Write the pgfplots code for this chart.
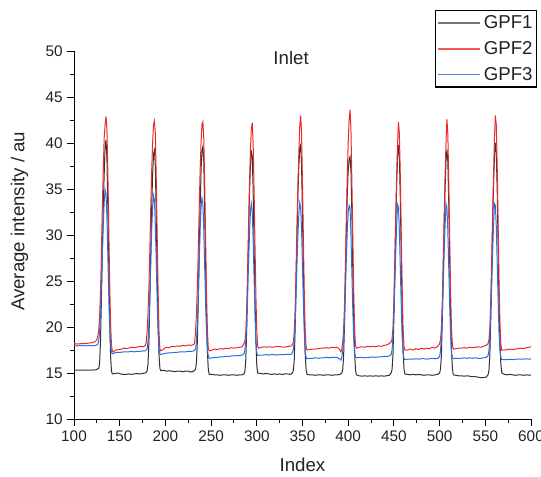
\documentclass[border=0pt]{standalone}
\usepackage{fontspec}
\setmainfont{Liberation Sans}
\usepackage{pgfplots}
\pgfplotsset{compat=1.18}
\definecolor{cA}{RGB}{50,50,50}
\definecolor{cB}{RGB}{238,40,42}
\definecolor{cC}{RGB}{40,112,228}
\definecolor{lA}{RGB}{120,120,120}
\definecolor{lB}{RGB}{242,90,92}
\definecolor{lC}{RGB}{80,140,230}
\definecolor{txt}{RGB}{35,35,35}
\newcommand{\fs}{\fontsize{14}{16.5}\selectfont}
\newcommand{\ft}{\fontsize{11.5}{14}\selectfont}
\begin{document}
\begin{tikzpicture}
\useasboundingbox (0,0) rectangle (405.75pt,357pt);
\begin{axis}[
  at={(55.5pt,42.75pt)}, anchor=south west,
  scale only axis, width=342.75pt, height=276pt,
  xmin=100, xmax=600, ymin=10, ymax=50,
  axis x line*=bottom, axis y line*=left,
  xtick={100,150,...,600}, ytick={10,15,...,50},
  minor x tick num=1, minor y tick num=1,
  tick align=outside, major tick length=5pt, minor tick length=3pt,
  tick style={black, line width=0.75pt},
  axis line style={black, line width=0.75pt},
  /pgf/number format/assume math mode=true,
  ticklabel style={font=\ft, text=txt},
  xlabel={Index}, ylabel={Average intensity / au},
  label style={font=\fs, text=txt},
  xlabel style={at={(axis description cs:0.5,-0.125)}, anchor=center},
  ylabel style={at={(axis description cs:-0.119,0.537)}, anchor=center},
  legend style={at={(axis description cs:1.0135,1.111)}, anchor=north east,
    draw=black, line width=0.9pt, font=\fs, text=txt, inner xsep=1pt, inner ysep=1.6pt,
    row sep=4.1pt, cells={anchor=west}},
  legend image code/.code={\draw[#1, line width=1pt] (0pt,0pt) -- (32pt,0pt);},
  every axis plot/.append style={line width=0.75pt},
]
\addlegendimage{lA}\addlegendentry{GPF1}
\addlegendimage{lB}\addlegendentry{GPF2}
\addlegendimage{lC}\addlegendentry{GPF3}
\addplot[cA, forget plot] coordinates {
(100,15.3)(104,15.3)(108,15.32)(112,15.3)(116,15.3)(120,15.32)(124,15.35)(127,15.5)
(128,16.0)(129,18.5)(130,23)(131,28)(132,33)(133,36.5)(134,39.5)(135,40.3)(136,38.5)(137,33)(138,27)(139,21)(140,17)(141,15.2)(142,14.9)
(145,14.95)(148,15.0)(151,14.9)(154,14.85)(157,14.85)(160,14.9)(163,14.85)(166,14.9)(169,14.95)(172,14.9)(175,14.95)(178,15.0)(180,15.2)
(181,16.0)(182,18.5)(183,23)(184,28)(185,33)(186,36.5)(187,38.8)(188,39.2)(189,37.5)(190,32)(191,26)(192,20.5)(193,17)(194,15.5)(195,15.25)
(198,15.3)(201,15.2)(204,15.25)(207,15.2)(210,15.15)(213,15.2)(216,15.2)(219,15.15)(222,15.2)(225,15.2)(228,15.1)(231,15.2)(233,15.4)
(234,16.2)(235,18.5)(236,23)(237,28)(238,33)(239,37)(240,39.2)(241,39.6)(242,38)(243,32.5)(244,26.5)(245,21)(246,17.2)(247,15.3)(248,14.85)
(251,14.85)(254,14.8)(257,14.8)(260,14.75)(263,14.8)(266,14.8)(269,14.75)(272,14.8)(275,14.8)(278,14.75)(281,14.8)(284,14.8)(286,14.9)(287,15.2)
(288,16.5)(289,20)(290,25)(291,30)(292,34.5)(293,37.5)(294,39.2)(295,38.5)(296,35)(297,29)(298,23)(299,18.5)(300,15.8)(301,15.0)
(304,14.95)(307,14.9)(310,14.95)(313,14.9)(316,14.85)(319,14.9)(322,14.85)(325,14.9)(328,14.85)(331,14.9)(334,14.9)(337,14.85)(339,15.0)(340,15.3)
(341,16.5)(342,20)(343,25)(344,30)(345,34.5)(346,37.5)(347,39.5)(348,39.8)(349,37.5)(350,32)(351,26)(352,20.5)(353,17)(354,15.3)(355,14.85)
(358,14.8)(361,14.8)(364,14.75)(367,14.8)(370,14.8)(373,14.75)(376,14.8)(379,14.8)(382,14.75)(385,14.8)(388,14.8)(391,14.85)(393,15.0)(394,15.4)
(395,16.8)(396,20.5)(397,25.5)(398,30.5)(399,34.5)(400,37)(401,38.2)(402,38.5)(403,37)(404,32.5)(405,26.5)(406,21)(407,17.2)(408,15.3)(409,14.8)
(412,14.7)(415,14.65)(418,14.7)(421,14.65)(424,14.7)(427,14.65)(430,14.7)(433,14.65)(436,14.7)(439,14.65)(442,14.7)(445,14.75)(447,15.0)(448,15.4)
(449,17)(450,21)(451,26)(452,31)(453,35.5)(454,38.5)(455,39.8)(456,38.5)(457,34)(458,28)(459,22)(460,17.5)(461,15.5)(462,14.9)
(465,14.85)(468,14.8)(471,14.85)(474,14.8)(477,14.85)(480,14.8)(483,14.75)(486,14.8)(489,14.8)(492,14.75)(495,14.8)(498,14.85)(500,15.0)(501,15.4)
(502,17)(503,21)(504,26)(505,31)(506,35)(507,38)(508,39.3)(509,38)(510,33.5)(511,27.5)(512,21.5)(513,17.5)(514,15.5)(515,14.8)
(518,14.75)(521,14.7)(524,14.7)(527,14.65)(530,14.7)(533,14.65)(536,14.6)(539,14.6)(542,14.55)(545,14.5)(548,14.5)(551,14.55)(553,14.8)(554,15.3)
(555,17)(556,21)(557,26)(558,31)(559,35.5)(560,38.5)(561,40.0)(562,39.0)(563,35)(564,29)(565,23)(566,18.5)(567,16)(568,15.0)
(571,14.85)(574,14.8)(577,14.85)(580,14.8)(583,14.75)(586,14.8)(589,14.8)(592,14.75)(595,14.8)(598,14.75)(600,14.8)
};
\addplot[cB, forget plot] coordinates {
(100,18.2)(104,18.15)(108,18.2)(112,18.2)(116,18.25)(120,18.3)(123,18.4)(125,18.6)(126,19.0)(127,19.6)
(128,21)(129,24)(130,28)(131,33)(132,37)(133,40.5)(134,42.0)(135,42.9)(136,41.5)(137,37)(138,31)(139,25)(140,20.5)(141,18.0)(142,17.4)(143,17.3)
(146,17.5)(149,17.55)(152,17.6)(155,17.7)(158,17.65)(161,17.75)(164,17.8)(167,17.75)(170,17.85)(173,17.9)(176,17.85)(178,18.0)(179,18.3)
(180,19.5)(181,21.5)(182,24.5)(183,28.5)(184,33)(185,37)(186,40)(187,42.0)(188,42.4)(189,41)(190,36)(191,30)(192,24)(193,19.5)(194,17.6)(195,17.4)
(198,17.6)(201,17.8)(204,17.75)(207,17.9)(210,17.85)(213,17.95)(216,17.9)(219,18.0)(222,17.95)(225,18.05)(228,18.0)(231,18.1)(232,18.3)
(233,19.5)(234,21.5)(235,24.5)(236,28.5)(237,33)(238,37)(239,40)(240,42.0)(241,42.3)(242,40.5)(243,35.5)(244,29.5)(245,23.5)(246,19.5)(247,17.6)(248,17.4)
(251,17.5)(254,17.6)(257,17.55)(260,17.65)(263,17.6)(266,17.7)(269,17.65)(272,17.75)(275,17.7)(278,17.75)(281,17.8)(284,17.85)(286,18.2)(287,18.5)
(288,19.5)(289,22)(290,26.5)(291,31)(292,35.5)(293,39)(294,41.5)(295,42.2)(296,40)(297,35)(298,29)(299,23.5)(300,19.5)(301,17.9)(302,17.7)
(305,17.8)(308,17.85)(311,17.8)(314,17.85)(317,17.8)(320,17.85)(323,17.9)(326,17.85)(329,17.8)(332,17.85)(335,17.9)(338,17.95)(340,18.3)
(341,19.5)(342,22)(343,26.5)(344,31)(345,35.5)(346,39)(347,41.8)(348,43.0)(349,41)(350,35.5)(351,29.5)(352,23.5)(353,19.5)(354,17.8)(355,17.5)
(358,17.55)(361,17.6)(364,17.6)(367,17.65)(370,17.7)(373,17.7)(376,17.75)(379,17.7)(382,17.8)(385,17.75)(388,17.8)(391,17.5)(392,17.3)(393,17.6)(394,18.3)
(395,19.8)(396,22.5)(397,27)(398,32)(399,36.5)(400,40)(401,42.5)(402,43.6)(403,41.5)(404,36)(405,30)(406,24)(407,19.8)(408,18.0)(409,17.7)
(412,17.8)(415,17.85)(418,17.8)(421,17.9)(424,17.85)(427,17.9)(430,17.85)(433,17.95)(436,17.9)(439,18.0)(442,18.05)(445,18.2)(447,18.4)(448,18.7)
(449,20)(450,23)(451,27.5)(452,32)(453,36.5)(454,40)(455,42.3)(456,41)(457,36.5)(458,30.5)(459,24.5)(460,20)(461,18)(462,17.5)
(465,17.5)(468,17.6)(471,17.5)(474,17.65)(477,17.55)(480,17.7)(483,17.6)(486,17.7)(489,17.65)(492,17.8)(495,17.7)(498,17.9)(500,18.2)(501,18.6)
(502,20)(503,23)(504,27.5)(505,32)(506,36.5)(507,40)(508,42.6)(509,41)(510,36)(511,30)(512,24)(513,19.8)(514,18)(515,17.6)
(518,17.65)(521,17.7)(524,17.7)(527,17.75)(530,17.7)(533,17.8)(536,17.75)(539,17.8)(542,17.85)(545,17.8)(548,17.9)(551,18.0)(553,18.2)(554,18.6)
(555,20)(556,23)(557,27.5)(558,32)(559,36.5)(560,40.5)(561,43.0)(562,42)(563,37.5)(564,31.5)(565,25)(566,20.5)(567,18.2)(568,17.5)
(571,17.5)(574,17.55)(577,17.6)(580,17.55)(583,17.6)(586,17.65)(589,17.7)(592,17.65)(595,17.75)(598,17.8)(600,17.85)
};
\addplot[cC, forget plot] coordinates {
(100,18.0)(104,17.95)(108,18.0)(112,17.95)(116,18.0)(120,17.95)(124,18.0)(126,18.1)(127,18.5)
(128,19.5)(129,21.5)(130,24.5)(131,28)(132,31)(133,33.5)(134,34.9)(135,34.5)(136,32)(137,28)(138,23.5)(139,20)(140,18)(141,17.3)(142,17.1)
(145,17.2)(148,17.25)(151,17.25)(154,17.3)(157,17.3)(160,17.3)(163,17.35)(166,17.3)(169,17.35)(172,17.35)(175,17.4)(178,17.4)(180,17.6)
(181,18.5)(182,20.5)(183,23.5)(184,27)(185,30.5)(186,33)(187,34.3)(188,33.8)(189,31)(190,27)(191,23)(192,19.5)(193,17.6)(194,17.1)(195,17.0)
(198,17.1)(201,17.15)(204,17.2)(207,17.2)(210,17.25)(213,17.25)(216,17.3)(219,17.3)(222,17.3)(225,17.35)(228,17.35)(231,17.4)(233,17.6)
(234,18.5)(235,20.5)(236,23.5)(237,27)(238,30.5)(239,33)(240,34.0)(241,33.5)(242,30.5)(243,26.5)(244,22.5)(245,19.5)(246,17.5)(247,16.8)(248,16.6)
(251,16.65)(254,16.7)(257,16.7)(260,16.75)(263,16.75)(266,16.8)(269,16.8)(272,16.85)(275,16.85)(278,16.9)(281,16.9)(284,16.95)(286,17.1)(287,17.5)
(288,18.5)(289,20.5)(290,23.5)(291,27)(292,30)(293,32.5)(294,33.4)(295,32.5)(296,29.5)(297,25.5)(298,21.5)(299,18.5)(300,17.2)(301,16.9)
(304,16.95)(307,16.95)(310,17.0)(313,16.95)(316,17.0)(319,17.0)(322,16.95)(325,17.0)(328,17.0)(331,17.0)(334,17.05)(337,17.0)(339,17.2)(340,17.6)
(341,18.5)(342,20.5)(343,23.5)(344,27)(345,30)(346,32.3)(347,33.5)(348,33.0)(349,30.5)(350,26.5)(351,22.5)(352,19.2)(353,17.3)(354,16.7)(355,16.55)
(358,16.6)(361,16.6)(364,16.65)(367,16.6)(370,16.65)(373,16.65)(376,16.7)(379,16.65)(382,16.7)(385,16.7)(388,16.7)(391,16.5)(392,16.4)(393,16.7)(394,17.4)
(395,18.8)(396,21)(397,24)(398,27.5)(399,30.5)(400,32.5)(401,33.2)(402,33.0)(403,30)(404,26)(405,22)(406,18.8)(407,17.2)(408,16.75)(409,16.65)
(412,16.7)(415,16.7)(418,16.65)(421,16.7)(424,16.7)(427,16.75)(430,16.7)(433,16.75)(436,16.75)(439,16.8)(442,16.8)(445,16.85)(447,17.0)(448,17.5)
(449,19)(450,21.5)(451,24.5)(452,28)(453,31)(454,33.3)(455,33.0)(456,30.5)(457,26.5)(458,22.5)(459,19)(460,17.2)(461,16.6)(462,16.45)
(465,16.5)(468,16.5)(471,16.5)(474,16.55)(477,16.5)(480,16.55)(483,16.55)(486,16.5)(489,16.55)(492,16.6)(495,16.55)(498,16.6)(500,16.8)(501,17.4)
(502,19)(503,21.5)(504,24.5)(505,28)(506,31)(507,33.4)(508,33.0)(509,30.5)(510,26.5)(511,22.5)(512,19)(513,17.2)(514,16.7)(515,16.55)
(518,16.6)(521,16.6)(524,16.6)(527,16.65)(530,16.6)(533,16.65)(536,16.6)(539,16.65)(542,16.6)(545,16.6)(548,16.65)(551,16.7)(553,16.9)(554,17.4)
(555,19)(556,21.5)(557,24.5)(558,28)(559,31)(560,33.4)(561,33.2)(562,31)(563,27)(564,23)(565,19.5)(566,17.5)(567,16.7)(568,16.45)
(571,16.45)(574,16.45)(577,16.5)(580,16.45)(583,16.5)(586,16.5)(589,16.5)(592,16.5)(595,16.55)(598,16.5)(600,16.55)
};
\node[font=\fs, text=txt] at (rel axis cs:0.475,0.981) {Inlet};
\end{axis}
\end{tikzpicture}
\end{document}
